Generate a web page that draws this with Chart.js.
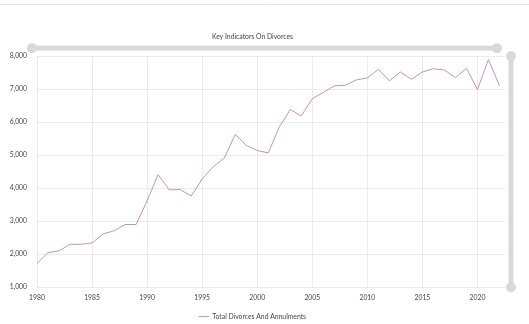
<!DOCTYPE html>
<html>
<head>
<meta charset="utf-8">
<script src="https://cdn.jsdelivr.net/npm/chart.js@4"></script>
<style>
html,body{margin:0;padding:0;background:#fff;}
#wrap{position:relative;width:529px;height:324px;}
</style>
</head>
<body>
<div id="wrap"><canvas id="c" width="529" height="324"></canvas></div>
<script>
const chartTitle = "Key Indicators On Divorces";
const seriesName = "Total Divorces And Annulments";
const years = [1980,1981,1982,1983,1984,1985,1986,1987,1988,1989,1990,1991,1992,1993,1994,1995,1996,1997,1998,1999,2000,2001,2002,2003,2004,2005,2006,2007,2008,2009,2010,2011,2012,2013,2014,2015,2016,2017,2018,2019,2020,2021,2022];
const divorces = [1720,2050,2100,2300,2300,2340,2610,2710,2900,2900,3620,4410,3950,3960,3760,4280,4650,4910,5630,5300,5140,5070,5850,6380,6190,6710,6900,7100,7120,7280,7340,7600,7250,7520,7300,7520,7620,7580,7350,7630,6990,7900,7100];
const xTicks = [1980,1985,1990,1995,2000,2005,2010,2015,2020];
const yTicks = [1000,2000,3000,4000,5000,6000,7000,8000];

const FONT = "Lato, 'Liberation Sans Narrow', sans-serif";
const FS = 6.8;
const TEXT = '#444';
const GRID = '#ebebeb';
const LINE = '#c493bd';
const SLIDER = '#d9d9d9';

const decor = {
  id: 'decor',
  beforeDraw(chart) {
    const ctx = chart.ctx;
    ctx.save();
    ctx.strokeStyle = '#e4e4e4';
    ctx.lineWidth = 1;
    ctx.beginPath();
    ctx.moveTo(0, 4.5);
    ctx.lineTo(chart.width, 4.5);
    ctx.stroke();
    ctx.restore();
  },
  afterDraw(chart) {
    const a = chart.chartArea;
    const ctx = chart.ctx;
    ctx.save();
    ctx.fillStyle = SLIDER;
    const hy = a.top - 8;
    const hx0 = a.left - 5, hx1 = a.right - 8;
    ctx.fillRect(hx0, hy - 2.5, hx1 - hx0, 5);
    ctx.beginPath(); ctx.arc(hx0, hy, 5, 0, Math.PI * 2); ctx.fill();
    ctx.beginPath(); ctx.arc(hx1, hy, 5, 0, Math.PI * 2); ctx.fill();
    const vx = a.right + 6;
    ctx.fillRect(vx - 2.5, a.top, 5, a.bottom - a.top);
    ctx.beginPath(); ctx.arc(vx, a.top, 5, 0, Math.PI * 2); ctx.fill();
    ctx.beginPath(); ctx.arc(vx, a.bottom, 5, 0, Math.PI * 2); ctx.fill();
    ctx.restore();
  }
};

new Chart(document.getElementById('c'), {
  type: 'line',
  data: {
    datasets: [{
      label: seriesName,
      data: years.map((y, i) => ({x: y, y: divorces[i]})),
      borderColor: LINE,
      backgroundColor: LINE,
      borderWidth: 1,
      pointRadius: 0,
      tension: 0,
      fill: false
    }]
  },
  options: {
    responsive: false,
    animation: false,
    layout: {padding: {left: 0, right: 24, top: 0, bottom: -6}},
    plugins: {
      title: {
        display: true,
        text: chartTitle,
        color: TEXT,
        font: {family: FONT, size: FS, weight: 'normal'},
        padding: {top: 33, bottom: 15}
      },
      legend: {
        display: true,
        position: 'bottom',
        labels: {
          color: TEXT,
          font: {family: FONT, size: FS},
          usePointStyle: true,
          pointStyle: 'line',
          pointStyleWidth: 10,
          boxHeight: 7,
          padding: 2
        }
      },
      tooltip: {enabled: false}
    },
    scales: {
      x: {
        type: 'linear',
        min: years[0],
        max: years[years.length - 1] + 0.5,
        afterBuildTicks(scale) { scale.ticks = xTicks.map(v => ({value: v})); },
        afterFit(scale) { scale.height = 24; },
        grid: {color: GRID, drawTicks: false},
        border: {display: false},
        ticks: {
          color: TEXT,
          font: {family: FONT, size: FS},
          padding: 7,
          maxRotation: 0,
          callback: v => String(v)
        }
      },
      y: {
        min: yTicks[0],
        max: yTicks[yTicks.length - 1],
        afterBuildTicks(scale) { scale.ticks = yTicks.map(v => ({value: v})); },
        afterFit(scale) { scale.width = 37; },
        grid: {color: GRID, drawTicks: false},
        border: {display: false},
        ticks: {
          color: TEXT,
          font: {family: FONT, size: FS},
          padding: 10,
          callback: v => v.toLocaleString('en-US')
        }
      }
    }
  },
  plugins: [decor]
});
</script>
</body>
</html>
